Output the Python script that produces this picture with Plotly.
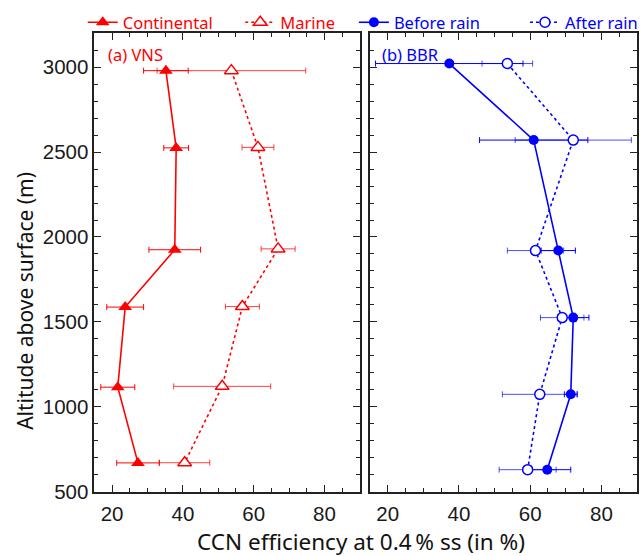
import plotly.graph_objects as go

# Altitude levels (m) and CCN efficiency (%) at 0.4 % supersaturation
alt_vns_cont = [2980, 2525, 1925, 1587, 1115, 669]
alt_vns_mar = [2980, 2528, 1930, 1590, 1120, 670]
ccn_cont = [35.2, 38.1, 37.7, 23.7, 21.6, 27.3]
err_cont = [6.3, 3.5, 7.3, 5.2, 4.8, 6.0]
ccn_mar = [53.7, 61.2, 66.9, 56.8, 51.1, 40.5]
err_mar = [21.0, 4.5, 4.8, 4.8, 13.7, 7.1]

alt_bbr = [3022, 2571, 1920, 1525, 1073, 629]
ccn_before = [37.3, 61.0, 67.9, 72.1, 71.4, 64.8]
err_before = [20.7, 15.2, 4.8, 4.4, 1.8, 6.6]
ccn_after = [53.6, 72.1, 61.5, 69.0, 62.7, 59.3]
err_after = [7.1, 16.3, 7.9, 6.1, 10.5, 8.0]

x_ticks = [20, 40, 60, 80]
y_ticks = [500, 1000, 1500, 2000, 2500, 3000]

RED = "#ff0000"
BLUE = "#0000ff"
W, H = 643, 556
TEXT_FONT = "Noto Sans"
NUM_FONT = "Liberation Sans, Arial"
X_RANGE = [15, 90]
Y_RANGE = [500, 3200]


def px_x(p):
    return p / W


def px_y(p):
    return 1 - p / H


fig = go.Figure()

fig.add_trace(go.Scatter(
    x=ccn_cont, y=alt_vns_cont, name="Continental", mode="lines+markers",
    line=dict(color=RED, width=1.6),
    marker=dict(symbol="triangle-up", size=12, color=RED),
    error_x=dict(type="data", array=err_cont, color=RED, thickness=1, width=3),
    xaxis="x", yaxis="y", legend="legend", showlegend=True,
))
fig.add_trace(go.Scatter(
    x=ccn_mar, y=alt_vns_mar, name="Marine", mode="lines+markers",
    line=dict(color=RED, width=1.6, dash="dot"),
    marker=dict(symbol="triangle-up", size=12, color="white",
                line=dict(color=RED, width=1.5)),
    error_x=dict(type="data", array=err_mar, color="rgba(255,0,0,0.75)",
                 thickness=1, width=3),
    xaxis="x", yaxis="y", legend="legend2", showlegend=True,
))
fig.add_trace(go.Scatter(
    x=ccn_before, y=alt_bbr, name="Before rain", mode="lines+markers",
    line=dict(color=BLUE, width=1.6),
    marker=dict(symbol="circle", size=10, color=BLUE),
    error_x=dict(type="data", array=err_before, color=BLUE, thickness=1, width=3),
    xaxis="x2", yaxis="y2", legend="legend3", showlegend=True,
))
fig.add_trace(go.Scatter(
    x=ccn_after, y=alt_bbr, name="After rain", mode="lines+markers",
    line=dict(color=BLUE, width=1.6, dash="dot"),
    marker=dict(symbol="circle", size=10, color="white",
                line=dict(color=BLUE, width=1.5)),
    error_x=dict(type="data", array=err_after, color="rgba(0,0,255,0.7)",
                 thickness=1, width=3),
    xaxis="x2", yaxis="y2", legend="legend4", showlegend=True,
))

# empty traces so the top/right tick axes get drawn
for xa, ya in (("x3", "y3"), ("x4", "y4")):
    fig.add_trace(go.Scatter(x=[None], y=[None], xaxis=xa, yaxis=ya,
                             showlegend=False, hoverinfo="skip"))

AX_COLOR = "#222222"
axis_common = dict(
    showgrid=False, zeroline=False, showline=True, linecolor=AX_COLOR,
    linewidth=1.8, mirror=True, ticks="inside", ticklen=7, tickwidth=1.4,
    tickcolor=AX_COLOR,
    tickfont=dict(family=NUM_FONT, size=20.5, color="#1a1a1a"),
)
x_minor = dict(dtick=5, tick0=0, ticks="inside", ticklen=4, tickwidth=1.2,
               tickcolor=AX_COLOR)
y_minor = dict(dtick=100, tick0=0, ticks="inside", ticklen=4, tickwidth=1.2,
               tickcolor=AX_COLOR)

xaxis_common = dict(axis_common, range=X_RANGE, tickvals=x_ticks, minor=x_minor,
                    ticklabelstandoff=3)
yaxis_common = dict(axis_common, range=Y_RANGE, tickvals=y_ticks, minor=y_minor)

# tick-only axes on the top and right edges of each frame
top_common = dict(range=X_RANGE, tickvals=x_ticks, minor=x_minor, side="top",
                  showticklabels=False, showgrid=False, zeroline=False,
                  showline=False, ticks="inside", ticklen=7, tickwidth=1.4,
                  tickcolor=AX_COLOR)
right_common = dict(range=Y_RANGE, tickvals=y_ticks, minor=y_minor, side="right",
                    showticklabels=False, showgrid=False, zeroline=False,
                    showline=False, ticks="inside", ticklen=7, tickwidth=1.4,
                    tickcolor=AX_COLOR)

y_dom = [px_y(501.5), px_y(34)]

legend_common = dict(orientation="h", yanchor="middle", y=px_y(23),
                     xanchor="left", bgcolor="rgba(0,0,0,0)", borderwidth=0,
                     itemwidth=30)
leg_red = dict(family=TEXT_FONT, size=16.5, color=RED)
leg_blue = dict(family=TEXT_FONT, size=16.5, color=BLUE)

fig.update_layout(
    width=W, height=H, margin=dict(l=0, r=0, t=0, b=0),
    paper_bgcolor="white", plot_bgcolor="white", showlegend=True,
    xaxis=dict(xaxis_common, domain=[px_x(94.7), px_x(361)], anchor="y"),
    yaxis=dict(yaxis_common, domain=y_dom, anchor="x"),
    xaxis2=dict(xaxis_common, domain=[px_x(371), px_x(639)], anchor="y2"),
    yaxis2=dict(yaxis_common, domain=y_dom, anchor="x2", showticklabels=False),
    xaxis3=dict(top_common, overlaying="x", anchor="y"),
    xaxis4=dict(top_common, overlaying="x2", anchor="y2"),
    yaxis3=dict(right_common, overlaying="y", anchor="x"),
    yaxis4=dict(right_common, overlaying="y2", anchor="x2"),
    legend=dict(legend_common, x=px_x(83), font=leg_red),
    legend2=dict(legend_common, x=px_x(241), font=leg_red),
    legend3=dict(legend_common, x=px_x(355), font=leg_blue),
    legend4=dict(legend_common, x=px_x(527), font=leg_blue),
    annotations=[
        dict(text="(a) VNS", x=px_x(106), y=px_y(56), xref="paper", yref="paper",
             xanchor="left", yanchor="middle", showarrow=False,
             font=dict(family=TEXT_FONT, size=16.5, color=RED)),
        dict(text="(b) BBR", x=px_x(381), y=px_y(56), xref="paper", yref="paper",
             xanchor="left", yanchor="middle", showarrow=False,
             font=dict(family=TEXT_FONT, size=16.5, color=BLUE)),
        dict(text="CCN efficiency at 0.4\u2009% ss (in %)", x=px_x(362), y=px_y(552),
             xref="paper", yref="paper", xanchor="center", yanchor="middle",
             showarrow=False, font=dict(family=TEXT_FONT, size=22.5, color="#111111")),
        dict(text="Altitude above surface (m)", x=px_x(25), y=px_y(307),
             xref="paper", yref="paper", xanchor="center", yanchor="middle",
             textangle=-90, showarrow=False,
             font=dict(family=TEXT_FONT, size=21, color="#111111")),
    ],
)

fig.write_html("out.html")
